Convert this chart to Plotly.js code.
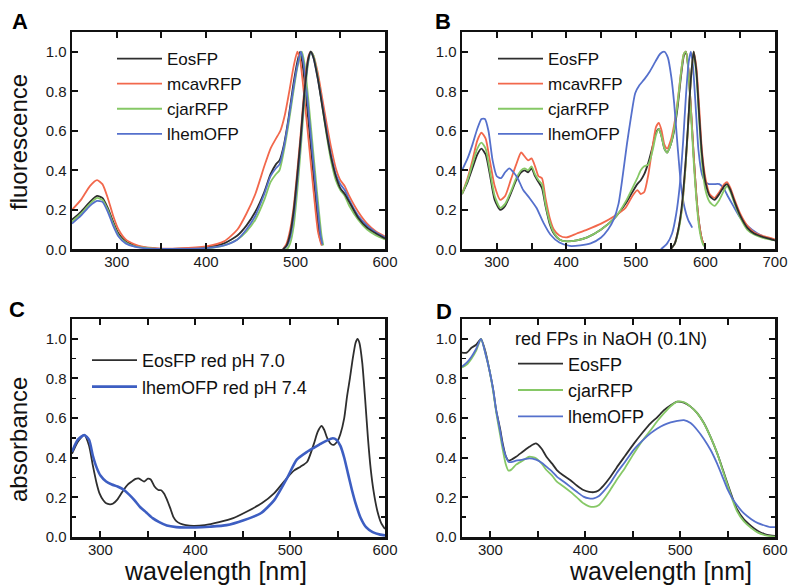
<!DOCTYPE html>
<html>
<head>
<meta charset="utf-8">
<script src="https://cdn.plot.ly/plotly-3.0.1.min.js"></script>
<style>html,body{margin:0;padding:0;background:#fff;}#chart{width:791px;height:586px;}</style>
</head>
<body>
<div id="chart"></div>
<script>
// ---------- Panel A : fluorescence (green forms) ----------
const aEosExWl  = [250,260,270,278,284,290,296,302,310,320,330,345,370,400,420,435,445,455,465,472,478,482,487,492,497,502,505,508,512,517,522,527,530];
const aEosEx    = [0.15,0.19,0.24,0.27,0.26,0.21,0.14,0.08,0.04,0.02,0.01,0.003,0.003,0.01,0.03,0.07,0.12,0.19,0.29,0.38,0.43,0.45,0.53,0.66,0.82,0.95,1.0,0.93,0.76,0.52,0.28,0.06,0.02];
const aMcavExWl = [250,260,270,278,284,290,296,302,310,320,330,345,370,400,420,435,445,455,465,472,478,483,488,493,498,502,505,510,515,520,525,529];
const aMcavEx   = [0.2,0.25,0.32,0.35,0.33,0.26,0.17,0.1,0.05,0.025,0.012,0.005,0.005,0.015,0.04,0.1,0.18,0.28,0.42,0.51,0.56,0.6,0.68,0.8,0.93,1.0,0.96,0.76,0.53,0.3,0.09,0.02];
const aCjarExWl = [250,260,270,278,284,290,296,302,310,320,330,345,370,400,420,435,445,455,465,472,478,482,487,492,497,502,507,510,514,519,524,529,531];
const aCjarEx   = [0.14,0.18,0.23,0.26,0.25,0.2,0.13,0.07,0.035,0.015,0.008,0.002,0.002,0.005,0.02,0.05,0.09,0.15,0.25,0.34,0.38,0.4,0.5,0.63,0.78,0.92,1.0,0.94,0.77,0.53,0.29,0.07,0.02];
const aLhemExWl = [250,260,270,278,284,290,296,302,310,320,330,345,370,400,420,435,445,455,465,472,478,482,487,492,497,502,506,509,513,518,523,528,530];
const aLhemEx   = [0.13,0.17,0.22,0.245,0.24,0.19,0.12,0.065,0.03,0.013,0.006,0.002,0.002,0.006,0.02,0.05,0.1,0.17,0.28,0.37,0.41,0.43,0.52,0.65,0.8,0.93,1.0,0.94,0.77,0.53,0.29,0.07,0.025];
const aEmWl     = [486,490,494,498,502,506,510,514,517,520,525,530,535,540,545,550,555,560,570,580,590,600];
const aEosEm    = [0,0.02,0.08,0.2,0.38,0.58,0.8,0.96,1.0,0.97,0.86,0.72,0.58,0.46,0.37,0.31,0.28,0.24,0.16,0.11,0.08,0.055];
const aMcavEm   = [0,0.03,0.1,0.22,0.4,0.6,0.82,0.97,1.0,0.98,0.89,0.76,0.63,0.51,0.41,0.35,0.32,0.27,0.19,0.13,0.09,0.065];
const aCjarEm   = [0,0,0.03,0.12,0.3,0.52,0.76,0.94,1.0,0.98,0.87,0.72,0.57,0.44,0.35,0.3,0.27,0.22,0.15,0.1,0.07,0.05];
const aLhemEm   = [0,0.015,0.06,0.17,0.35,0.56,0.79,0.95,1.0,0.97,0.86,0.73,0.59,0.47,0.38,0.33,0.3,0.25,0.17,0.12,0.085,0.06];

// ---------- Panel B : fluorescence (red forms) ----------
const bExWl     = [250,258,265,272,278,284,290,297,305,312,320,328,335,340,345,350,355,360,365,370,376,382,390,400,415,430,450,470,485,495,502,507,512,518,524,529,533,537,541,545,550,555,560,565,569,572,575,579,583,587,591,595,598];
const bEosEx    = [0.28,0.34,0.41,0.48,0.51,0.48,0.38,0.25,0.2,0.22,0.28,0.35,0.39,0.4,0.39,0.41,0.37,0.34,0.31,0.22,0.13,0.08,0.05,0.04,0.045,0.06,0.1,0.16,0.23,0.29,0.33,0.35,0.38,0.44,0.52,0.59,0.61,0.57,0.51,0.49,0.53,0.6,0.72,0.88,0.98,1.0,0.93,0.72,0.48,0.27,0.13,0.05,0.02];
const bMcavEx   = [0.28,0.36,0.45,0.55,0.59,0.56,0.45,0.32,0.25,0.27,0.35,0.43,0.49,0.47,0.45,0.46,0.42,0.37,0.36,0.26,0.16,0.1,0.07,0.06,0.08,0.1,0.13,0.17,0.21,0.27,0.3,0.28,0.29,0.38,0.52,0.62,0.64,0.6,0.53,0.51,0.55,0.63,0.75,0.9,0.99,1.0,0.93,0.72,0.48,0.27,0.13,0.05,0.02];
const bCjarEx   = [0.28,0.35,0.43,0.51,0.54,0.51,0.4,0.27,0.21,0.23,0.29,0.36,0.4,0.41,0.4,0.42,0.38,0.35,0.33,0.23,0.14,0.085,0.05,0.04,0.045,0.06,0.1,0.16,0.24,0.31,0.36,0.4,0.42,0.43,0.5,0.58,0.61,0.57,0.51,0.49,0.53,0.61,0.74,0.9,0.99,1.0,0.92,0.7,0.45,0.25,0.11,0.04,0.015];
const bLhemExWl = [250,258,265,272,278,283,288,294,300,306,312,318,324,330,338,347,357,367,377,390,405,420,435,450,460,468,475,481,487,493,499,505,512,520,528,535,541,546,551,555,560,565,570,575,581];
const bLhemEx   = [0.4,0.46,0.53,0.61,0.66,0.66,0.6,0.45,0.37,0.36,0.39,0.41,0.39,0.36,0.3,0.26,0.21,0.135,0.075,0.034,0.017,0.02,0.03,0.06,0.1,0.15,0.23,0.37,0.53,0.67,0.79,0.83,0.86,0.9,0.95,0.99,1.0,0.97,0.87,0.74,0.52,0.32,0.21,0.15,0.11];
const bEmWl     = [550,556,561,566,571,575,579,583,587,591,595,600,606,613,620,627,631,636,642,650,660,670,685,700];
const bEosEm    = [0,0.03,0.1,0.22,0.42,0.63,0.86,1.0,0.9,0.68,0.48,0.34,0.27,0.25,0.28,0.32,0.33,0.3,0.24,0.17,0.11,0.08,0.06,0.045];
const bMcavEm   = [0,0.03,0.1,0.2,0.4,0.62,0.86,1.0,0.92,0.72,0.5,0.36,0.28,0.26,0.29,0.33,0.34,0.31,0.25,0.18,0.12,0.085,0.065,0.05];
const bCjarEm   = [0,0.03,0.09,0.2,0.4,0.62,0.86,1.0,0.88,0.65,0.44,0.3,0.24,0.22,0.25,0.3,0.32,0.29,0.23,0.16,0.1,0.075,0.055,0.045];
const bLhemEmWl = [536,545,552,558,563,568,572,576,579,582,586,590,595,600,605,612,620,626,632,640,650,660,675,690,700];
const bLhemEm   = [0,0.03,0.08,0.18,0.32,0.55,0.78,0.95,1.0,0.93,0.72,0.5,0.38,0.34,0.33,0.33,0.33,0.31,0.27,0.22,0.16,0.12,0.08,0.055,0.045];

// ---------- Panel C : absorbance ----------
const cEosWl  = [270,276,283,288,292,296,299,303,306,310,313,318,324,329,333,337,340,343,346,350,353,357,361,364,367,370,374,377,380,384,390,398,410,425,440,455,470,483,497,504,511,518,525,529,533,536,539,543,546,550,553,557,560,563,566,569,571,573,576,579,582,585,588,592,596,600];
const cEos    = [0.42,0.48,0.515,0.46,0.36,0.27,0.22,0.185,0.17,0.165,0.168,0.19,0.235,0.265,0.28,0.293,0.296,0.288,0.28,0.294,0.29,0.255,0.237,0.236,0.22,0.19,0.14,0.1,0.08,0.068,0.06,0.056,0.06,0.075,0.095,0.13,0.17,0.22,0.3,0.335,0.355,0.38,0.47,0.53,0.56,0.54,0.5,0.47,0.465,0.485,0.52,0.6,0.71,0.8,0.9,0.98,1.0,0.98,0.88,0.7,0.5,0.34,0.23,0.13,0.07,0.04];
const cLhemWl = [270,276,283,288,292,296,300,306,312,318,324,330,336,342,348,355,362,370,380,390,400,415,433,451,469,483,497,507,518,525,532,538,545,549,553,557,561,565,569,574,580,587,595,600];
const cLhem   = [0.43,0.49,0.515,0.49,0.41,0.35,0.31,0.28,0.265,0.255,0.24,0.215,0.185,0.15,0.125,0.095,0.075,0.058,0.05,0.048,0.048,0.052,0.06,0.085,0.12,0.185,0.3,0.39,0.43,0.45,0.47,0.485,0.498,0.49,0.46,0.4,0.32,0.24,0.17,0.1,0.05,0.025,0.012,0.008];

// ---------- Panel D : red FPs in NaOH ----------
const dWl   = [270,275,280,285,290,295,299,303,306,310,313,316,319,322,327,334,341,348,354,359,365,370,377,384,391,398,404,409,414,419,426,433,442,451,460,469,476,483,490,497,504,511,518,525,532,539,545,550,555,560,567,575,582,589,595,600];
const dEos  = [0.93,0.93,0.955,0.97,1.0,0.93,0.84,0.74,0.64,0.55,0.47,0.41,0.385,0.39,0.405,0.43,0.455,0.472,0.445,0.405,0.37,0.338,0.31,0.288,0.26,0.237,0.228,0.226,0.235,0.258,0.3,0.35,0.41,0.47,0.525,0.575,0.605,0.64,0.665,0.683,0.678,0.658,0.625,0.575,0.505,0.423,0.34,0.268,0.2,0.14,0.09,0.055,0.03,0.015,0.008,0.005];
const dCjar = [0.855,0.87,0.9,0.94,1.0,0.92,0.84,0.73,0.63,0.52,0.44,0.37,0.335,0.34,0.365,0.385,0.405,0.397,0.37,0.338,0.31,0.279,0.255,0.229,0.2,0.17,0.155,0.152,0.16,0.187,0.235,0.288,0.35,0.42,0.485,0.54,0.585,0.625,0.66,0.683,0.68,0.658,0.625,0.574,0.505,0.423,0.335,0.262,0.19,0.13,0.08,0.045,0.022,0.01,0.004,0.002];
const dLhem = [0.86,0.88,0.91,0.95,1.0,0.92,0.84,0.74,0.64,0.54,0.46,0.41,0.38,0.378,0.385,0.39,0.397,0.39,0.375,0.355,0.33,0.305,0.28,0.254,0.228,0.204,0.195,0.195,0.205,0.229,0.27,0.322,0.38,0.44,0.485,0.524,0.548,0.566,0.578,0.586,0.59,0.575,0.54,0.495,0.44,0.37,0.3,0.24,0.195,0.16,0.12,0.09,0.07,0.058,0.05,0.05];

// ---------- labels ----------
const panelLetters = ['A','B','C','D'];
const namesAB = ['EosFP','mcavRFP','cjarRFP','lhemOFP'];
const namesC  = ['EosFP red pH 7.0','lhemOFP red pH 7.4'];
const namesD  = ['EosFP','cjarRFP','lhemOFP'];
const legendTitleD = 'red FPs in NaOH (0.1N)';
const yTitleTop = 'fluorescence';
const yTitleBottom = 'absorbance';
const xTitle = 'wavelength [nm]';

// ---------- styling ----------
const FONT = 'Liberation Sans, Arial, Helvetica, sans-serif';
const COL = {black:'#2e2e2e', red:'#f2684c', green:'#86c866', blue:'#5570cc', blueC:'#3d5ec2'};
const W = 791, H = 586;
const px = x => x / W, py = y => 1 - y / H;

function tr(x, y, name, color, xa, ya, legend, show, width) {
  return {x:x, y:y, name:name, type:'scatter', mode:'lines',
    line:{color:color, width:width || 1.8, shape:'spline', smoothing:0.6},
    xaxis:xa, yaxis:ya, legend:legend, showlegend:show, hoverinfo:'skip'};
}

const traces = [
  tr(aEosExWl, aEosEx, namesAB[0], COL.black, 'x', 'y', 'legend', true),
  tr(aMcavExWl, aMcavEx, namesAB[1], COL.red, 'x', 'y', 'legend', true),
  tr(aCjarExWl, aCjarEx, namesAB[2], COL.green, 'x', 'y', 'legend', true),
  tr(aLhemExWl, aLhemEx, namesAB[3], COL.blue, 'x', 'y', 'legend', true),
  tr(aEmWl, aMcavEm, namesAB[1], COL.red, 'x', 'y', 'legend', false),
  tr(aEmWl, aCjarEm, namesAB[2], COL.green, 'x', 'y', 'legend', false),
  tr(aEmWl, aLhemEm, namesAB[3], COL.blue, 'x', 'y', 'legend', false),
  tr(aEmWl, aEosEm, namesAB[0], COL.black, 'x', 'y', 'legend', false),

  tr(bExWl, bEosEx, namesAB[0], COL.black, 'x2', 'y2', 'legend2', true),
  tr(bExWl, bMcavEx, namesAB[1], COL.red, 'x2', 'y2', 'legend2', true),
  tr(bExWl, bCjarEx, namesAB[2], COL.green, 'x2', 'y2', 'legend2', true),
  tr(bLhemExWl, bLhemEx, namesAB[3], COL.blue, 'x2', 'y2', 'legend2', true),
  tr(bLhemEmWl, bLhemEm, namesAB[3], COL.blue, 'x2', 'y2', 'legend2', false),
  tr(bEmWl, bMcavEm, namesAB[1], COL.red, 'x2', 'y2', 'legend2', false),
  tr(bEmWl, bCjarEm, namesAB[2], COL.green, 'x2', 'y2', 'legend2', false),
  tr(bEmWl, bEosEm, namesAB[0], COL.black, 'x2', 'y2', 'legend2', false),

  tr(cEosWl, cEos, namesC[0], COL.black, 'x3', 'y3', 'legend3', true, 1.8),
  tr(cLhemWl, cLhem, namesC[1], COL.blueC, 'x3', 'y3', 'legend3', true, 2.6),

  tr(dWl, dEos, namesD[0], COL.black, 'x4', 'y4', 'legend4', true),
  tr(dWl, dCjar, namesD[1], COL.green, 'x4', 'y4', 'legend4', true),
  tr(dWl, dLhem, namesD[2], COL.blue, 'x4', 'y4', 'legend4', true)
];

function ax(extra) {
  return Object.assign({
    showline:true, linecolor:'#111', linewidth:2.5, mirror:'ticks',
    ticks:'inside', ticklen:6, tickwidth:2, tickcolor:'#111',
    showgrid:false, zeroline:false, fixedrange:true,
    tickfont:{family:FONT, size:15, color:'#1a1a1a'}
  }, extra);
}
function xax(range, dom, anchor) {
  return ax({range:range, domain:dom, anchor:anchor, dtick:100, tick0:0, ticklabelstandoff:-3,
    minor:{dtick:50, ticks:'inside', ticklen:6, tickwidth:2, tickcolor:'#111', showgrid:false}});
}
function yax(dom, anchor, minor) {
  const o = {range:[0,1.1], domain:dom, anchor:anchor, dtick:0.2, tick0:0, tickformat:'.1f'};
  if (minor) o.minor = {dtick:0.1, ticks:'inside', ticklen:4, tickwidth:1.5, tickcolor:'#111', showgrid:false};
  return ax(o);
}
const xL = [px(72), px(385)], xR = [px(462), px(775)];
const yT = [py(249.3), py(32)], yB = [py(537), py(319)];

function leg(x, y, size, title) {
  const o = {x:px(x), y:py(y), xanchor:'left', yanchor:'top', bgcolor:'rgba(0,0,0,0)',
    borderwidth:0, font:{family:FONT, size:size, color:'#111'}, itemwidth:45,
    tracegroupgap:0, itemclick:false, itemdoubleclick:false};
  if (title) o.title = {text:title, font:{family:FONT, size:size, color:'#111'}, side:'top'};
  return o;
}

const annotations = [];
const letterPos = [[19.5,21.5],[443,21.5],[16.5,309],[443.5,311]];
panelLetters.forEach((t,i) => annotations.push({text:'<b>'+t+'</b>', x:px(letterPos[i][0]), y:py(letterPos[i][1]),
  xref:'paper', yref:'paper', showarrow:false, xanchor:'center', yanchor:'middle',
  font:{family:FONT, size:22, color:'#000'}}));
annotations.push({text:yTitleTop, x:px(18), y:py(142), xref:'paper', yref:'paper', showarrow:false,
  textangle:-90, xanchor:'center', yanchor:'middle', font:{family:FONT, size:24, color:'#111'}});
annotations.push({text:yTitleBottom, x:px(18), y:py(440), xref:'paper', yref:'paper', showarrow:false,
  textangle:-90, xanchor:'center', yanchor:'middle', font:{family:FONT, size:24, color:'#111'}});
annotations.push({text:xTitle, x:px(215), y:0, xref:'paper', yref:'paper', showarrow:false,
  xanchor:'center', yanchor:'bottom', borderpad:0, font:{family:FONT, size:25, color:'#111'}});
annotations.push({text:xTitle, x:px(660), y:0, xref:'paper', yref:'paper', showarrow:false,
  xanchor:'center', yanchor:'bottom', borderpad:0, font:{family:FONT, size:25, color:'#111'}});

const layout = {
  width:W, height:H, autosize:false,
  margin:{l:0, r:0, t:0, b:0, pad:0},
  paper_bgcolor:'#ffffff', plot_bgcolor:'#ffffff',
  font:{family:FONT, color:'#111'},
  xaxis: xax([250,600], xL, 'y'),
  yaxis: yax(yT, 'x', false),
  xaxis2: xax([250,700], xR, 'y2'),
  yaxis2: yax(yT, 'x2', false),
  xaxis3: xax([270,600], xL, 'y3'),
  yaxis3: yax(yB, 'x3', true),
  xaxis4: xax([270,600], xR, 'y4'),
  yaxis4: yax(yB, 'x4', true),
  legend: leg(112, 41, 17),
  legend2: leg(493, 41, 17),
  legend3: leg(87, 342, 18),
  legend4: leg(513, 322, 18, legendTitleD),
  annotations: annotations
};

Plotly.newPlot('chart', traces, layout, {displayModeBar:false, staticPlot:true});
</script>
</body>
</html>
